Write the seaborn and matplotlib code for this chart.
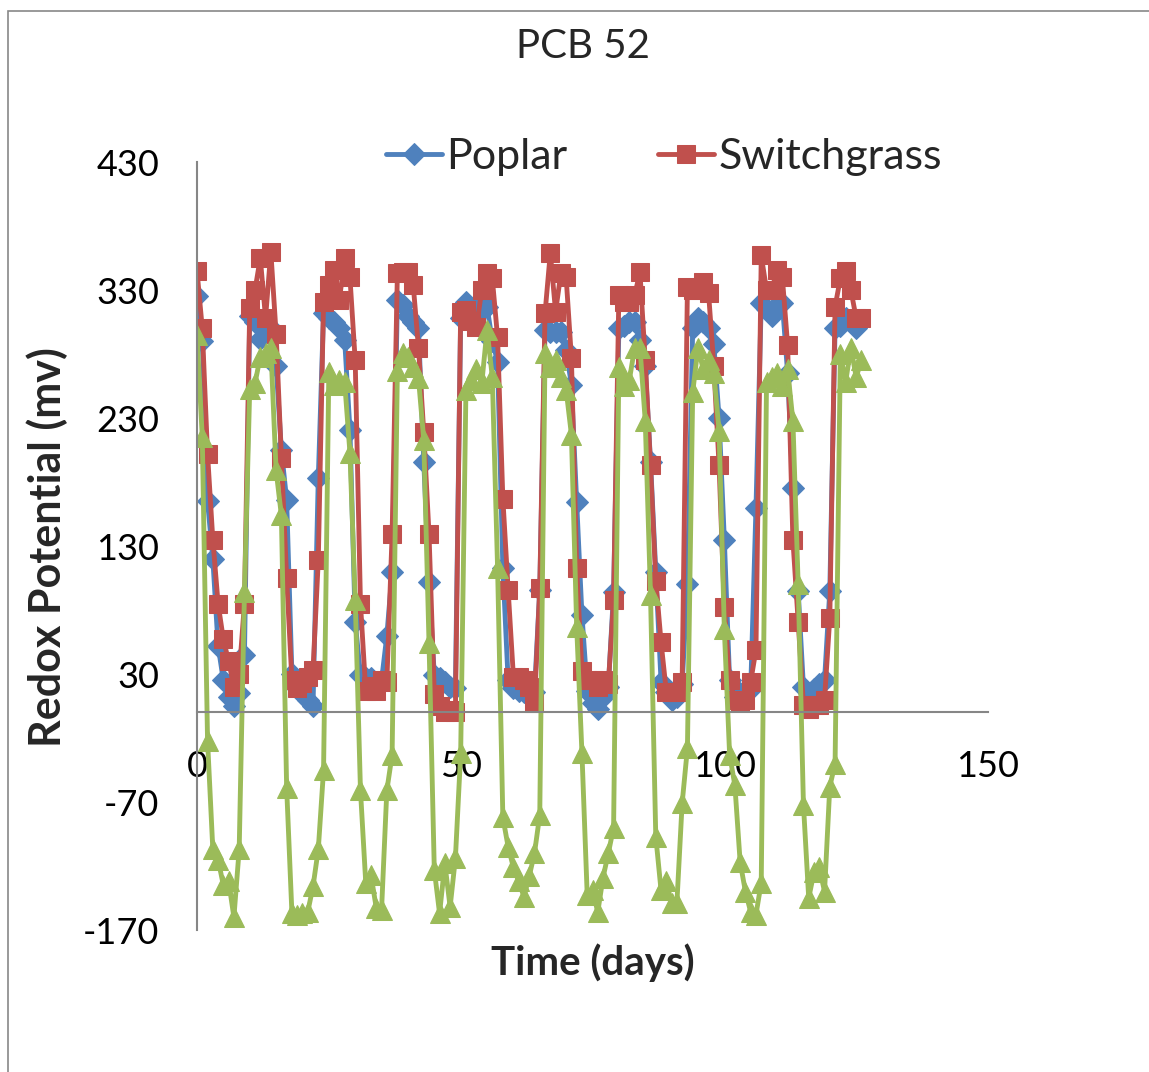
import matplotlib
matplotlib.use("Agg")
import matplotlib.pyplot as plt
from matplotlib.patches import Rectangle
import seaborn as sns

# Poplar (blue diamonds)
poplar_days = list(range(0, 126))
poplar_mv = [325, 290, 165, 120, 52, 25, 12, 5, 15, 45,
             310, 305, 292, 298, 300, 271, 205, 166, 30, 19, 14, 10, 5, 183,
             312, 308, 305, 300, 291, 221, 71, 29, 27, 27, 23, 25, 60, 110,
             322, 318, 310, 305, 300, 196, 102, 29, 27, 24, 20, 19,
             308, 321, 316, 310, 322, 317, 290, 274, 113, 25, 19, 17, 16, 20, 16, 96,
             299, 297, 297, 297, 283, 256, 164, 76, 17, 7, 3, 12, 20, 94,
             300, 302, 305, 305, 291, 271, 196, 110, 24, 16, 10, 12, 22, 100,
             300, 308, 305, 300, 288, 230, 135, 25, 12, 15, 15, 18, 160,
             320, 315, 310, 318, 320, 265, 175, 95, 20, 15, 18, 22, 25, 95,
             300, 302, 308, 305, 300]

# Switchgrass (red squares)
switch_days = list(range(0, 127))
switch_mv = [345, 300, 202, 135, 85, 57, 40, 20, 30, 85,
             316, 330, 355, 308, 360, 296, 199, 105, 25, 19, 23, 28, 33, 119,
             321, 334, 346, 322, 355, 340, 275, 85, 17, 21, 17, 25, 24, 139,
             343, 344, 344, 334, 285, 219, 139, 14, 5, 0, 2, 0,
             313, 314, 306, 301, 330, 343, 339, 293, 167, 96, 28, 28, 25, 20, 7, 97,
             312, 359, 313, 343, 340, 277, 113, 32, 25, 25, 20, 25, 22, 88,
             326, 321, 321, 326, 344, 275, 193, 103, 55, 16, 16, 16, 24,
             332, 330, 330, 336, 328, 271, 193, 82, 25, 10, 8, 10, 24, 49,
             357, 330, 330, 346, 340, 287, 135, 71, 6, 3, 6, 6, 10, 74,
             317, 339, 345, 330, 308, 308]

# third series (green triangles, not in legend)
green_days = list(range(0, 127))
green_mv = [295, 215, -22, -107, -115, -135, -132, -160, -107, 94,
            253, 257, 278, 281, 285, 189, 154, -59, -157, -158, -157, -156, -136, -107, -45,
            266, 256, 260, 258, 203, 88, -61, -133, -127, -153, -154, -61, -33,
            267, 281, 278, 270, 261, 213, 54, -123, -157, -118, -152, -114, -32,
            252, 260, 268, 257, 299, 262, 113, -82, -105, -121, -132, -144, -128, -110, -80,
            281, 270, 275, 262, 252, 217, 67, -32, -143, -139, -156, -129, -110, -90,
            270, 255, 260, 285, 285, 228, 92, -97, -139, -132, -149, -149, -71, -28,
            250, 285, 268, 275, 265, 220, 65, -33, -57, -117, -140, -156, -158, -133,
            258, 262, 265, 255, 268, 228, 100, -72, -145, -125, -121, -140, -58, -40,
            280, 258, 285, 262, 275]

y_ticks = [-170, -70, 30, 130, 230, 330, 430]
x_ticks = [0, 50, 100, 150]

W, H = 1149, 1072
sns.set_style("white")
plt.rcParams['font.family'] = ['Lato', 'DejaVu Sans']
plt.rcParams['axes.unicode_minus'] = False

fig = plt.figure(figsize=(W / 100, H / 100), dpi=100)
ax = fig.add_axes([197 / W, 1 - 930 / H, (988 - 197) / W, (930 - 162) / H])

blue, red, green = '#4F81BD', '#C0504D', '#9BBB59'
sns.lineplot(x=poplar_days, y=poplar_mv, ax=ax, color=blue, marker='D', markersize=11,
             markeredgecolor=blue, linewidth=3.5, estimator=None, sort=False, label='Poplar')
sns.lineplot(x=switch_days, y=switch_mv, ax=ax, color=red, marker='s', markersize=13,
             markeredgecolor=red, linewidth=3.5, estimator=None, sort=False, label='Switchgrass')
sns.lineplot(x=green_days, y=green_mv, ax=ax, color=green, marker='^', markersize=14,
             markeredgecolor=green, linewidth=3.5, estimator=None, sort=False, legend=False)

ax.set_xlim(0, 150)
ax.set_ylim(-170, 430)
ax.set_xticks(x_ticks)
ax.set_yticks(y_ticks)
ax.spines['top'].set_visible(False)
ax.spines['right'].set_visible(False)
ax.spines['bottom'].set_position(('data', 0))
for s in ('left', 'bottom'):
    ax.spines[s].set_color('#868686')
    ax.spines[s].set_linewidth(1.5)
ax.tick_params(axis='both', direction='out', length=7, width=1.5, color='#868686',
               labelsize=26, labelcolor='black')
ax.tick_params(axis='y', pad=20)
ax.tick_params(axis='x', pad=20)
ax.grid(False)
ax.set_xlabel('')
ax.set_ylabel('')

fig.text(593 / W, 1 - 963 / H, 'Time (days)', fontsize=29, fontweight='bold',
         ha='center', va='center')
fig.text(47 / W, 1 - 547 / H, 'Redox Potential (mv)', fontsize=31, fontweight='bold',
         rotation=90, ha='center', va='center')
fig.text(583 / W, 1 - 47 / H, 'PCB 52', fontsize=29, ha='center', va='center')

ax.legend(loc='center', bbox_to_anchor=(664 / (988 - 197) - 197 / (988 - 197) + 0.0, 1 + 5 / 768),
          ncol=2, frameon=False, fontsize=31, handlelength=1.3, handletextpad=0.1,
          columnspacing=2.1)

fig.add_artist(Rectangle((8 / W, -0.01), 1.1, 1 - 11 / H + 0.01, transform=fig.transFigure,
                         fill=False, edgecolor='#888888', linewidth=1.2))

fig.savefig('out.png', dpi=100)
